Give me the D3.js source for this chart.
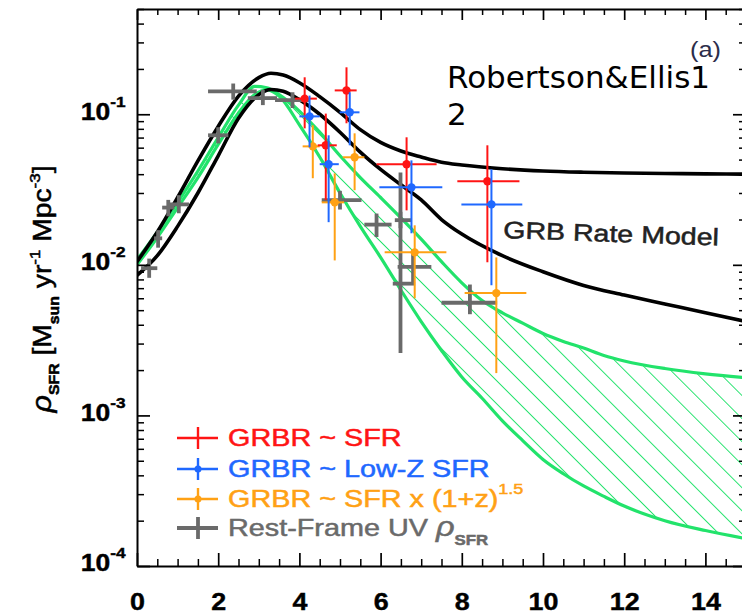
<!DOCTYPE html>
<html>
<head>
<meta charset="utf-8">
<script src="https://cdn.jsdelivr.net/npm/d3@7"></script>
<style>
  html, body { margin: 0; padding: 0; background: #fff; }
  svg { display: block; }
</style>
</head>
<body>
<svg id="chart" width="742" height="616"></svg>
<script>
// ---- data ----
var xTicks = [0, 2, 4, 6, 8, 10, 12, 14];
var yTicks = [1e-4, 1e-3, 1e-2, 1e-1];
var yTickExp = ["-4", "-3", "-2", "-1"];

// GRB rate model curves (black)
var blackZ   = [0, 0.5, 1, 1.5, 2, 2.5, 3, 3.3, 3.6, 4, 4.5, 5, 5.5, 6, 6.5, 7, 7.5, 8, 9, 10, 11, 12, 13, 14, 15];
var grbUpper = [0.0105, 0.0165, 0.028, 0.049, 0.083, 0.132, 0.175, 0.187, 0.182, 0.162, 0.131, 0.103, 0.079, 0.065, 0.057, 0.052, 0.048, 0.046, 0.0435, 0.042, 0.0412, 0.0407, 0.0404, 0.0402, 0.040];
var grbLower = [0.0085, 0.0115, 0.018, 0.030, 0.053, 0.094, 0.135, 0.146, 0.142, 0.125, 0.100, 0.076, 0.056, 0.043, 0.034, 0.027, 0.020, 0.016, 0.0115, 0.0090, 0.0073, 0.0063, 0.0055, 0.0048, 0.0042];

// SFR density range (green hatched band)
var greenZ    = [0, 0.5, 1, 1.5, 2, 2.5, 2.9, 3.2, 3.5, 4, 4.5, 5, 5.5, 6, 6.5, 7, 7.5, 8, 8.5, 9, 9.5, 10, 10.5, 11, 11.5, 12, 13, 14, 15];
var greenHigh = [0.0108, 0.0165, 0.026, 0.042, 0.070, 0.115, 0.153, 0.150, 0.135, 0.105, 0.076, 0.053, 0.038, 0.028, 0.0205, 0.0148, 0.0105, 0.0076, 0.0058, 0.0048, 0.0041, 0.0035, 0.0031, 0.0028, 0.0025, 0.0023, 0.00205, 0.00189, 0.00178];
var greenLow  = [0.0100, 0.0152, 0.024, 0.038, 0.063, 0.102, 0.135, 0.145, 0.132, 0.085, 0.052, 0.030, 0.018, 0.0112, 0.0068, 0.0042, 0.0027, 0.0018, 0.0013, 0.00092, 0.00068, 0.00051, 0.00041, 0.00034, 0.00029, 0.00025, 0.00020, 0.000172, 0.000152];

// points: [z, rho, zLow, zHigh, rhoLow, rhoHigh]
var sfrPts = [
  [4.13, 0.127, 3.89, 4.43, 0.0806, 0.176],
  [5.16, 0.144, 4.87, 5.41, 0.0871, 0.205],
  [4.65, 0.0622, 4.45, 4.92, 0.0269, 0.101],
  [6.64, 0.0466, 5.90, 7.38, 0.0230, 0.0703],
  [8.63, 0.0359, 7.89, 9.42, 0.0104, 0.0622]
];
var lowZPts = [
  [4.25, 0.0968, 4.00, 4.50, 0.0603, 0.133],
  [5.24, 0.103, 4.99, 5.48, 0.0622, 0.140],
  [4.72, 0.0466, 4.50, 4.97, 0.0192, 0.0725],
  [6.76, 0.0327, 5.97, 7.52, 0.0162, 0.0494],
  [8.73, 0.0252, 7.99, 9.49, 0.00732, 0.0431]
];
var evolPts = [
  [4.33, 0.0612, 4.08, 4.50, 0.0376, 0.0844],
  [5.36, 0.0518, 5.07, 5.60, 0.0313, 0.0747],
  [4.87, 0.0260, 4.55, 5.10, 0.0107, 0.0405],
  [6.84, 0.0121, 6.10, 7.62, 0.0060, 0.0183],
  [8.85, 0.00649, 8.07, 9.59, 0.00191, 0.0112]
];
var uvPts = [
  [0.30, 0.0095, 0.10, 0.50, 0.0082, 0.0110],
  [0.52, 0.0150, 0.42, 0.62, 0.0130, 0.0170],
  [0.77, 0.0240, 0.62, 0.92, 0.0210, 0.0270],
  [1.03, 0.0252, 0.78, 1.28, 0.0220, 0.0290],
  [2.00, 0.0725, 1.75, 2.25, 0.0640, 0.0820],
  [2.37, 0.142, 1.75, 2.95, 0.125, 0.160],
  [3.10, 0.128, 2.73, 3.45, 0.115, 0.145],
  [3.83, 0.124, 3.40, 4.25, 0.110, 0.140],
  [5.00, 0.0269, 4.55, 5.53, 0.0233, 0.0310],
  [5.90, 0.0185, 5.60, 6.27, 0.0153, 0.0219],
  [6.49, 0.0198, 6.35, 6.75, 0.0175, 0.0225],
  [6.49, 0.0075, 6.30, 6.85, 0.0026, 0.0410],
  [6.80, 0.0097, 6.42, 7.25, 0.0075, 0.0125],
  [8.20, 0.0056, 7.50, 8.87, 0.0047, 0.0074]
];

// ---- drawing ----
var svg = d3.select("#chart");
var sans = "'Liberation Sans', Arial, Helvetica, sans-serif";

var x = d3.scaleLinear().domain([0, 15]).range([137, 746]);
var y = d3.scaleLog().domain([1e-4, 0.5]).range([566, 9]);

var xMinor = d3.range(0, 15.01, 0.5).filter(function (v) { return v % 2 !== 0; });
var yMinor = [];
[-4, -3, -2, -1].forEach(function (e) {
  for (var m = 2; m <= 9; m++) {
    var v = m * Math.pow(10, e);
    if (v <= 0.5) yMinor.push(v);
  }
});

var defs = svg.append("defs");
defs.append("clipPath").attr("id", "plotClip")
  .append("rect").attr("x", 137).attr("y", 9).attr("width", 609).attr("height", 557);

var hatch = defs.append("pattern").attr("id", "hatch")
  .attr("patternUnits", "userSpaceOnUse")
  .attr("width", 16.3).attr("height", 16.3)
  .attr("patternTransform", "rotate(-45)");
hatch.append("line").attr("x1", 0).attr("y1", -2).attr("x2", 0).attr("y2", 20)
  .attr("stroke", "#22e36b").attr("stroke-width", 1.9);

var plot = svg.append("g").attr("clip-path", "url(#plotClip)");

var green = greenZ.map(function (z, i) { return [z, greenHigh[i], greenLow[i]]; });

// hatched band
plot.append("path")
  .datum(green)
  .attr("fill", "url(#hatch)")
  .attr("d", d3.area()
    .x(function (d) { return x(d[0]); })
    .y0(function (d) { return y(d[2]); })
    .y1(function (d) { return y(d[1]); })
    .curve(d3.curveMonotoneX));

var lineHigh = d3.line().x(function (d) { return x(d[0]); }).y(function (d) { return y(d[1]); }).curve(d3.curveMonotoneX);
var lineLow  = d3.line().x(function (d) { return x(d[0]); }).y(function (d) { return y(d[2]); }).curve(d3.curveMonotoneX);

plot.append("path").datum(green).attr("d", lineHigh)
  .attr("fill", "none").attr("stroke", "#22e36b").attr("stroke-width", 3.2);
plot.append("path").datum(green).attr("d", lineLow)
  .attr("fill", "none").attr("stroke", "#22e36b").attr("stroke-width", 3.2);

var black = blackZ.map(function (z, i) { return [z, grbUpper[i], grbLower[i]]; });
plot.append("path").datum(black).attr("d", lineHigh)
  .attr("fill", "none").attr("stroke", "#000").attr("stroke-width", 3.6);
plot.append("path").datum(black).attr("d", lineLow)
  .attr("fill", "none").attr("stroke", "#000").attr("stroke-width", 3.6);

// error-bar points
function drawPoints(data, color, width, dot) {
  var g = plot.append("g");
  var pts = g.selectAll("g.pt").data(data).enter().append("g").attr("class", "pt");
  pts.append("line")
    .attr("x1", function (d) { return x(d[2]); }).attr("x2", function (d) { return x(d[3]); })
    .attr("y1", function (d) { return y(d[1]); }).attr("y2", function (d) { return y(d[1]); })
    .attr("stroke", color).attr("stroke-width", width);
  pts.append("line")
    .attr("x1", function (d) { return x(d[0]); }).attr("x2", function (d) { return x(d[0]); })
    .attr("y1", function (d) { return y(d[4]); }).attr("y2", function (d) { return y(d[5]); })
    .attr("stroke", color).attr("stroke-width", width);
  if (dot) {
    pts.append("circle")
      .attr("cx", function (d) { return x(d[0]); }).attr("cy", function (d) { return y(d[1]); })
      .attr("r", 4.2).attr("fill", color);
  }
}
drawPoints(uvPts, "#6a6a6a", 3.8, false);
drawPoints(evolPts, "#ffa114", 2, true);
drawPoints(sfrPts, "#ff1414", 2, true);
drawPoints(lowZPts, "#1f68ff", 2, true);

// ---- axes ----
function styleAxis(g) {
  g.select(".domain").attr("stroke", "#000").attr("stroke-width", 2);
  g.selectAll(".tick line").attr("stroke", "#000").attr("stroke-width", 1.7);
}
function minorOnly(g) {
  g.select(".domain").remove();
  g.selectAll(".tick line").attr("stroke", "#000").attr("stroke-width", 1.5);
}

svg.append("g").attr("transform", "translate(0,566)")
  .call(d3.axisBottom(x).tickValues(xMinor).tickSize(-7).tickFormat(""))
  .call(minorOnly);
svg.append("g").attr("transform", "translate(0,566)")
  .call(d3.axisBottom(x).tickValues(xTicks).tickSize(-13).tickSizeOuter(0).tickPadding(27).tickFormat(d3.format("d")))
  .call(styleAxis)
  .selectAll(".tick text")
  .attr("font-family", sans).attr("font-size", 24).attr("font-weight", "bold")
  .attr("fill", "#000").attr("stroke", "#000").attr("stroke-width", 0.4)
  .attr("transform", "scale(1.12,1)");

svg.append("g").attr("transform", "translate(0,9)")
  .call(d3.axisTop(x).tickValues(xMinor).tickSize(-6).tickFormat(""))
  .call(minorOnly);
svg.append("g").attr("transform", "translate(0,9)")
  .call(d3.axisTop(x).tickValues(xTicks).tickSize(-11).tickSizeOuter(0).tickFormat(""))
  .call(styleAxis);

svg.append("g").attr("transform", "translate(137,0)")
  .call(d3.axisLeft(y).tickValues(yMinor).tickSize(-7).tickFormat(""))
  .call(minorOnly);
svg.append("g").attr("transform", "translate(137,0)")
  .call(d3.axisLeft(y).tickValues(yTicks).tickSize(-13).tickSizeOuter(0).tickPadding(10).tickFormat(function () { return ""; }))
  .call(styleAxis)
  .selectAll(".tick text")
  .attr("font-family", sans).attr("font-weight", "bold").attr("fill", "#000")
  .attr("stroke", "#000").attr("stroke-width", 0.4)
  .attr("dy", "0.48em").attr("transform", "scale(1.15,1)")
  .each(function (d, i) {
    var t = d3.select(this);
    t.append("tspan").attr("font-size", 23).text("10");
    t.append("tspan").attr("font-size", 15).attr("dy", -13).text(yTickExp[i]);
  });

svg.append("g").attr("transform", "translate(746,0)")
  .call(d3.axisRight(y).tickValues(yMinor).tickSize(-7).tickFormat(""))
  .call(minorOnly);
svg.append("g").attr("transform", "translate(746,0)")
  .call(d3.axisRight(y).tickValues(yTicks).tickSize(-13).tickSizeOuter(0).tickFormat(""))
  .call(styleAxis);

// ---- y-axis title ----
var yt = svg.append("text")
  .attr("transform", "translate(51,289) rotate(-90) scale(1.13,1)")
  .attr("text-anchor", "middle")
  .attr("font-family", sans).attr("font-size", 25).attr("fill", "#000")
  .attr("stroke", "#000").attr("stroke-width", 0.5);
yt.append("tspan").attr("font-style", "italic").attr("font-size", 27).text("\u03c1");
yt.append("tspan").attr("font-size", 14).attr("font-weight", "bold").attr("dy", 8).text("SFR");
yt.append("tspan").attr("dy", -8).text(" [M");
yt.append("tspan").attr("font-size", 14).attr("font-weight", "bold").attr("dy", 8).text("sun");
yt.append("tspan").attr("dy", -8).text(" yr");
yt.append("tspan").attr("font-size", 15).attr("dy", -11).text("-1");
yt.append("tspan").attr("dy", 11).text(" Mpc");
yt.append("tspan").attr("font-size", 15).attr("dy", -11).text("-3");
yt.append("tspan").attr("dy", 11).text("]");

// ---- legend ----
var legendItems = [
  { color: "#ff1414", dot: false, width: 2.4 },
  { color: "#1f68ff", dot: true, width: 2.4 },
  { color: "#ffa114", dot: true, width: 2.4 },
  { color: "#6a6a6a", dot: false, width: 3.8 }
];
var legendRows = [438, 469, 499, 528];
var legend = svg.append("g");
legendItems.forEach(function (it, i) {
  var ry = legendRows[i];
  legend.append("line").attr("x1", 177).attr("x2", 218).attr("y1", ry).attr("y2", ry)
    .attr("stroke", it.color).attr("stroke-width", it.width);
  legend.append("line").attr("x1", 198).attr("x2", 198).attr("y1", ry - 11).attr("y2", ry + 11)
    .attr("stroke", it.color).attr("stroke-width", it.width);
  if (it.dot) legend.append("circle").attr("cx", 198).attr("cy", ry).attr("r", 3.5).attr("fill", it.color);
  var t = legend.append("text")
    .attr("transform", "translate(228," + (ry + 8) + ") scale(1.2,1)")
    .attr("font-family", sans).attr("font-size", 24).attr("fill", it.color)
    .attr("stroke", it.color).attr("stroke-width", 0.5);
  if (i === 0) t.text("GRBR ~ SFR");
  if (i === 1) t.text("GRBR ~ Low-Z SFR");
  if (i === 2) {
    t.append("tspan").text("GRBR ~ SFR x (1+z)");
    t.append("tspan").attr("font-size", 15).attr("dy", -13).text("1.5");
  }
  if (i === 3) {
    t.append("tspan").text("Rest-Frame UV ");
    t.append("tspan").attr("font-style", "italic").attr("font-size", 27).text("\u03c1");
    t.append("tspan").attr("font-size", 14).attr("font-weight", "bold").attr("dy", 9).text("SFR");
  }
});

// ---- annotations ----
svg.append("text")
  .attr("transform", "translate(503,238) rotate(2) scale(1.19,1)")
  .attr("font-family", sans).attr("font-size", 24).attr("fill", "#222")
  .attr("stroke", "#222").attr("stroke-width", 0.5)
  .text("GRB Rate Model");

svg.append("text")
  .attr("transform", "translate(690,57) scale(1.15,1)")
  .attr("font-family", sans).attr("font-size", 22).attr("fill", "#2b2d4a")
  .text("(a)");

var re = svg.append("text")
  .attr("font-family", "'DejaVu Sans', sans-serif").attr("font-size", 31).attr("fill", "#000");
re.append("tspan").attr("x", 447).attr("y", 88).text("Robertson&Ellis1");
re.append("tspan").attr("x", 447).attr("y", 125).text("2");
</script>
</body>
</html>
